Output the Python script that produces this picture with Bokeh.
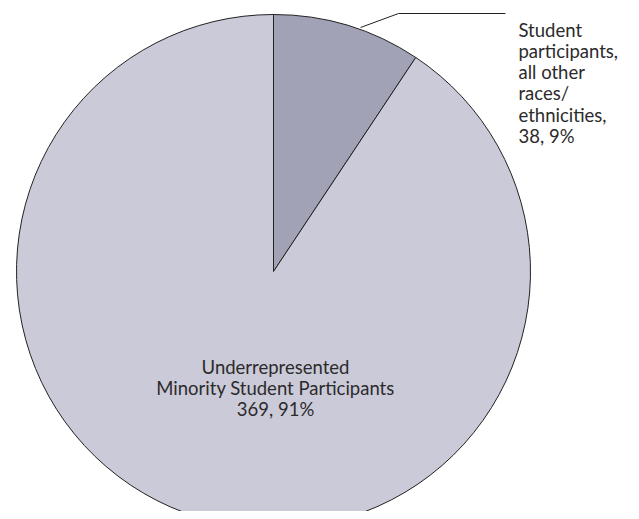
import numpy as np
import pandas as pd
from bokeh.plotting import figure
from bokeh.models import Range1d, ColumnDataSource
from bokeh.core.properties import value
from bokeh.embed import file_html
from bokeh.resources import INLINE

# ---- data ----
categories = ["Student participants, all other races/ethnicities",
              "Underrepresented Minority Student Participants"]
counts = [38, 369]
percents = ["9%", "91%"]
colors = ["#A2A2B7", "#CBCAD9"]

label_small = ["Student", "participants,", "all other", "races/", "ethnicities,",
               f"{counts[0]}, {percents[0]}"]
label_big = ["Underrepresented", "Minority Student Participants",
             f"{counts[1]}, {percents[1]}"]

W, H = 631, 511
p = figure(width=W, height=H, output_backend="svg", toolbar_location=None,
           x_range=Range1d(0, W), y_range=Range1d(0, H),
           min_border=0, min_border_left=0, min_border_right=0,
           min_border_top=0, min_border_bottom=0)
p.axis.visible = False
p.grid.visible = False
p.outline_line_color = None
p.background_fill_color = "white"
p.border_fill_color = "white"

# screen coords helper (top-down pixels -> data y)
def sy(y):
    return H - y

cx, cy, r = 273, sy(271), 257

df = pd.DataFrame({"cat": categories, "count": counts, "color": colors})
df["angle"] = df["count"] / df["count"].sum() * 2 * np.pi
cum = df["angle"].cumsum()
df["start"] = np.pi / 2 - (cum - df["angle"])
df["end"] = np.pi / 2 - cum
src = ColumnDataSource(df)

p.wedge(x=cx, y=cy, radius=r, start_angle="start", end_angle="end",
        direction="clock", fill_color="color", line_color="#222222",
        line_width=1, source=src)

# leader line
p.line(x=[360, 398, 505], y=[sy(27), sy(13), sy(13)], line_color="#222222",
       line_width=1)

font = value("Lato")
ys = [29 + 21.3 * i for i in range(len(label_small))]
p.text(x=[518] * len(label_small), y=[sy(v) for v in ys], text=label_small,
       text_font=font, text_font_size="18.5px", text_color="#2b2b2b",
       text_align="left", text_baseline="alphabetic")

yb = [366.5, 387.5, 408]
p.text(x=[275] * 3, y=[sy(v) for v in yb], text=label_big,
       text_font=font, text_font_size="18.5px", text_color="#2b2b2b",
       text_align="center", text_baseline="alphabetic")

open("out.html", "w").write(file_html(p, INLINE))
